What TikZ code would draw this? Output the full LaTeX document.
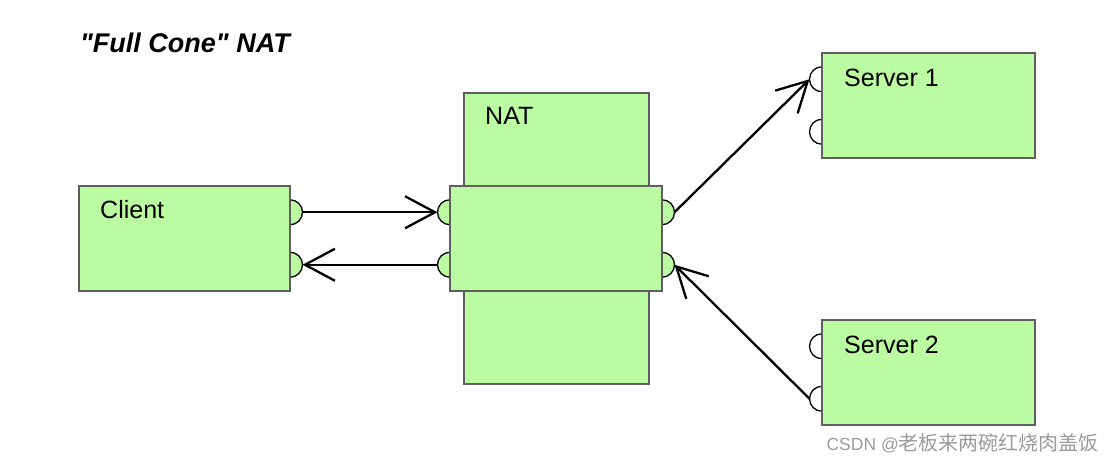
\documentclass[tikz,border=0pt]{standalone}
\usepackage{fontspec}
\setmainfont{Liberation Sans}
\newfontfamily\cjk{Noto Sans CJK SC}
\usetikzlibrary{arrows.meta,calc,backgrounds}
\definecolor{boxgreen}{RGB}{187,251,161}
\definecolor{boxline}{RGB}{95,95,95}
\definecolor{wmgray}{RGB}{155,155,155}
\tikzset{
  box/.style={draw=boxline, fill=boxgreen, line width=1.4pt, inner sep=0pt, outer sep=0pt, minimum height=105pt},
  lbl/.style={anchor=base west, inner sep=0pt, font=\fontsize{25}{30}\selectfont},
  portR/.style={draw=black, fill=boxgreen, line width=1.3pt},
  portL/.style={draw=black, fill=white, line width=1.3pt},
  conn/.style={draw=black, line width=2.3pt, -{Straight Barb[length=30pt,width=32pt,line width=2.3pt]}}
}
\begin{document}
\begin{tikzpicture}[x=1pt,y=-1pt]
\useasboundingbox (0,0) rectangle (1117,461);
% title
\node[anchor=base west, inner sep=0pt, font=\fontsize{27}{32}\selectfont\bfseries\itshape] (title) at (80,52.3) {\textquotedbl Full Cone\textquotedbl\ NAT};
% boxes
\node[box, minimum width=211pt] (client) at (184.5,238.5) {};
\node[box, minimum width=185pt, minimum height=291pt] (nat) at (556.5,238.5) {};
\node[box, minimum width=212pt] (natin) at (556,238.5) {};
\node[box, minimum width=213pt] (s1) at (928.5,105.5) {};
\node[box, minimum width=213pt] (s2) at (928.5,372.5) {};
% labels
\node[lbl] (tclient) at (100,218) {Client};
\node[lbl] (tnat) at (485,124.5) {NAT};
\node[lbl] (ts1) at (844,86.7) {Server 1};
\node[lbl] (ts2) at (844,353.7) {Server 2};
% port coordinates (on box edges)
\coordinate (cR1) at ($(client.north east)!0.25!(client.south east)$);
\coordinate (cR2) at ($(client.north east)!0.75!(client.south east)$);
\coordinate (nL1) at ($(natin.north west)!0.25!(natin.south west)$);
\coordinate (nL2) at ($(natin.north west)!0.75!(natin.south west)$);
\coordinate (nR1) at ($(natin.north east)!0.25!(natin.south east)$);
\coordinate (nR2) at ($(natin.north east)!0.75!(natin.south east)$);
\coordinate (s1L1) at ($(s1.north west)!0.25!(s1.south west)$);
\coordinate (s1L2) at ($(s1.north west)!0.75!(s1.south west)$);
\coordinate (s2L1) at ($(s2.north west)!0.25!(s2.south west)$);
\coordinate (s2L2) at ($(s2.north west)!0.75!(s2.south west)$);
% port tips
\coordinate (cR1t) at ($(cR1)+(12.5,0)$);
\coordinate (cR2t) at ($(cR2)+(12.5,0)$);
\coordinate (nL1t) at ($(nL1)+(-12.5,0)$);
\coordinate (nL2t) at ($(nL2)+(-12.5,0)$);
\coordinate (nR1t) at ($(nR1)+(12.5,0)$);
\coordinate (nR2t) at ($(nR2)+(12.5,0)$);
\coordinate (s1L1t) at ($(s1L1)+(-12.5,0)$);
\coordinate (s2L2t) at ($(s2L2)+(-12.5,0)$);
% ports
\begin{scope}[on background layer]
  \foreach \p in {cR1,cR2,nR1,nR2}
    \path[portR] ($(\p)+(0,-12.5)$) arc[start angle=-90,end angle=90,radius=12.5];
  \foreach \p in {nL1,nL2}
    \path[portR] ($(\p)+(0,-12.5)$) arc[start angle=270,end angle=90,radius=12.5];
  \foreach \p in {s1L1,s1L2,s2L1,s2L2}
    \path[portL] ($(\p)+(0,-12.5)$) arc[start angle=270,end angle=90,radius=12.5];
\end{scope}
% connectors
\draw[conn] (cR1t) -- (nL1t);
\draw[conn] (nL2t) -- (cR2t);
\draw[conn] (nR1t) -- (s1L1t);
\draw[conn] (s2L2t) -- (nR2t);
% watermark
\node[anchor=base east, inner sep=0pt, text=wmgray] (wm) at (1099,450) {{\fontsize{17.5}{20}\selectfont CSDN @}{\cjk\fontsize{20}{22}\selectfont 老板来两碗红烧肉盖饭}};
\end{tikzpicture}
\end{document}
